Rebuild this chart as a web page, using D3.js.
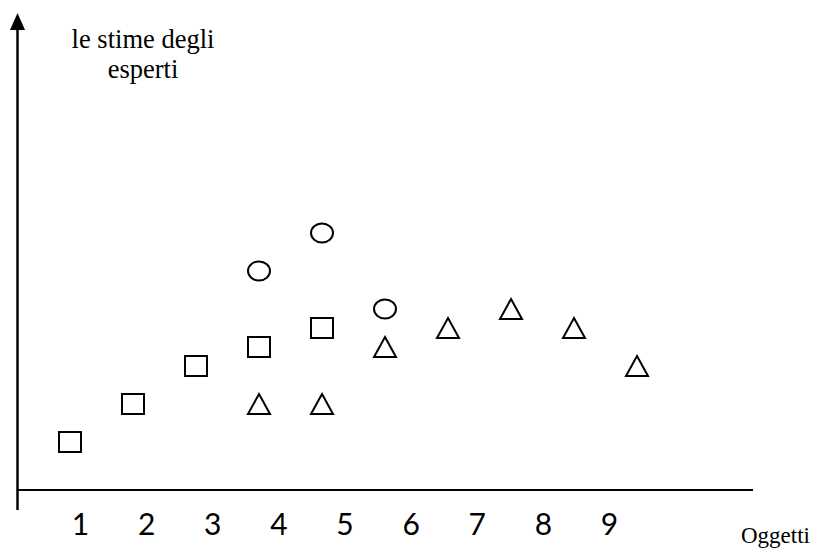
<!DOCTYPE html>
<html><head><meta charset="utf-8">
<script src="https://cdn.jsdelivr.net/npm/d3@7"></script>
<style>body{margin:0;background:#fff}</style>
</head><body>
<script>
// Data
const tickLabels = ["1","2","3","4","5","6","7","8","9"];
const squareSlots = [1,2,3,4,5];
const squareValues = [1,3,5,6,7];
const circleSlots = [4,5,6];
const circleValues = [10,12,8];
const triangleSlots = [4,5,6,7,8,9,10];
const triangleValues = [3,3,6,7,8,7,5];
const yTitle = ["le stime degli","esperti"];
const xTitle = "Oggetti";

const W=814,H=549;
const svg=d3.select("body").append("svg").attr("width",W).attr("height",H);

const x=d3.scaleLinear().domain([1,10]).range([70,637]);
const y=d3.scaleLinear().domain([0,12]).range([461,233]);
const xl=d3.scalePoint().domain(tickLabels).range([80,609]);

// axes lines
svg.append("line").attr("x1",17.5).attr("x2",17.5).attr("y1",28).attr("y2",510)
  .attr("stroke","#000").attr("stroke-width",2.5);
svg.append("path").attr("d","M17.5,13 L10,30 L25,30 Z").attr("fill","#000");
svg.append("line").attr("x1",17).attr("x2",753).attr("y1",490).attr("y2",490)
  .attr("stroke","#000").attr("stroke-width",1.8);

// tick labels via axis
const ax=svg.append("g").attr("transform","translate(0,490)")
  .call(d3.axisBottom(xl).tickSize(0));
ax.select(".domain").remove();
ax.selectAll("text").attr("y",45).attr("dy",null)
  .attr("font-family","Lato, 'Open Sans', sans-serif").attr("font-size",30).attr("fill","#000");

const sty=s=>s.attr("fill","none").attr("stroke","#000").attr("stroke-width",2);

sty(svg.append("g").selectAll("rect").data(squareSlots).join("rect")
  .attr("x",(d)=>x(d)-11).attr("y",(d,i)=>y(squareValues[i])-10)
  .attr("width",22).attr("height",20));

sty(svg.append("g").selectAll("ellipse").data(circleSlots).join("ellipse")
  .attr("cx",d=>x(d)).attr("cy",(d,i)=>y(circleValues[i]))
  .attr("rx",11).attr("ry",9.5));

sty(svg.append("g").selectAll("path").data(triangleSlots).join("path")
  .attr("d",(d,i)=>{const cx=x(d),cy=y(triangleValues[i]);
    return `M${cx},${cy-10} L${cx+11},${cy+10} L${cx-11},${cy+10} Z`;})
  .attr("stroke-linejoin","miter"));

// titles
const tt=svg.append("text").attr("font-family","'Liberation Serif', 'Times New Roman', serif")
  .attr("font-size",26.5).attr("text-anchor","middle").attr("fill","#000");
tt.selectAll("tspan").data(yTitle).join("tspan")
  .attr("x",143).attr("y",(d,i)=>48+i*30).text(d=>d);

svg.append("text").attr("x",810).attr("y",543).attr("text-anchor","end")
  .attr("font-family","'Liberation Serif', 'Times New Roman', serif")
  .attr("font-size",23).attr("fill","#000").text(xTitle);
</script>
</body></html>
